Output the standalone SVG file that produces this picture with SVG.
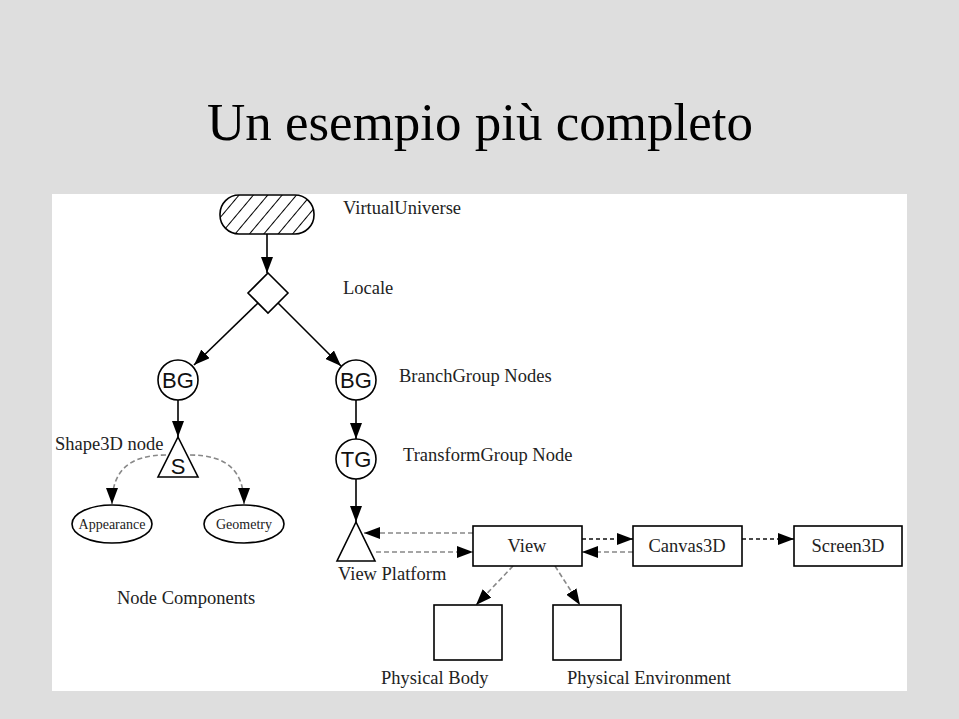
<svg xmlns="http://www.w3.org/2000/svg" width="959" height="719" viewBox="0 0 959 719">
<style>
.bg{fill:#dedede}
.panel{fill:#ffffff}
.title{font-family:"Liberation Serif","Times New Roman",serif;font-size:53px;fill:#000}
.lbl{font-family:"Liberation Serif","Times New Roman",serif;font-size:18.5px;fill:#222}
.small{font-family:"Liberation Serif","Times New Roman",serif;font-size:14px;fill:#222}
.nd{font-family:"Liberation Sans",Arial,sans-serif;font-size:22px;fill:#111;text-anchor:middle}
.shape{fill:#fff;stroke:#000;stroke-width:1.6}
.solid{fill:none;stroke:#000;stroke-width:1.6}
.dgray{fill:none;stroke:#888;stroke-width:1.6;stroke-dasharray:5,3}
.dblack{fill:none;stroke:#111;stroke-width:1.4;stroke-dasharray:4,3}
</style>
<defs>
<marker id="ah" viewBox="0 0 16 12" refX="16" refY="6" markerWidth="16" markerHeight="12" markerUnits="userSpaceOnUse" orient="auto">
<path d="M0,0 L16,6 L0,12 Z" fill="#000"/>
</marker>
<pattern id="hatch" patternUnits="userSpaceOnUse" width="11" height="11" patternTransform="rotate(40)">
<line x1="0" y1="0" x2="0" y2="11" stroke="#000" stroke-width="2"/>
</pattern>
</defs>
<rect class="bg" x="0" y="0" width="959" height="719"/>
<text class="title" x="480" y="140" text-anchor="middle">Un esempio più completo</text>
<rect class="panel" x="52" y="194" width="855" height="497"/>

<g id="connectors">
<line class="solid" x1="267" y1="234" x2="267" y2="273" marker-end="url(#ah)"/>
<line class="solid" x1="258" y1="303" x2="194" y2="365" marker-end="url(#ah)"/>
<line class="solid" x1="278" y1="303" x2="341" y2="366" marker-end="url(#ah)"/>
<line class="solid" x1="178" y1="400" x2="178" y2="437" marker-end="url(#ah)"/>
<line class="solid" x1="356" y1="400" x2="356" y2="439" marker-end="url(#ah)"/>
<line class="solid" x1="356" y1="479" x2="356" y2="522" marker-end="url(#ah)"/>
<path class="dgray" d="M166,455 C130,455 112,470 112,504" marker-end="url(#ah)"/>
<path class="dgray" d="M190,455 C226,455 244,470 244,504" marker-end="url(#ah)"/>
<line class="dgray" x1="473" y1="533" x2="364" y2="533" marker-end="url(#ah)"/>
<line class="dgray" x1="376" y1="552" x2="473" y2="552" marker-end="url(#ah)"/>
<line class="dblack" x1="582" y1="539" x2="633" y2="539" marker-end="url(#ah)"/>
<line class="dgray" x1="633" y1="552" x2="582" y2="552" marker-end="url(#ah)"/>
<line class="dblack" x1="742" y1="539" x2="794" y2="539" marker-end="url(#ah)"/>
<line class="dgray" x1="513" y1="566" x2="476" y2="605" marker-end="url(#ah)"/>
<line class="dgray" x1="555" y1="566" x2="580" y2="605" marker-end="url(#ah)"/>
</g>

<g id="virtualuniverse">
<rect x="220" y="195" width="94" height="39" rx="19" ry="19" fill="url(#hatch)" stroke="#000" stroke-width="1.6"/>
<text class="lbl" x="343" y="214">VirtualUniverse</text>
</g>
<g id="locale">
<polygon class="shape" points="268,273 288,293 268,313 248,293"/>
<text class="lbl" x="343" y="294">Locale</text>
</g>
<g id="bg-left">
<circle class="shape" cx="178" cy="380" r="20"/>
<text class="nd" x="178" y="388">BG</text>
</g>
<g id="bg-right">
<circle class="shape" cx="356" cy="380" r="20"/>
<text class="nd" x="356" y="388">BG</text>
<text class="lbl" x="399" y="382">BranchGroup Nodes</text>
</g>
<g id="shape3d">
<polygon class="shape" points="178,437 198,477 158,477"/>
<text class="nd" x="178" y="474">S</text>
<text class="lbl" x="55" y="450">Shape3D node</text>
</g>
<g id="tg">
<circle class="shape" cx="356" cy="459" r="20"/>
<text class="nd" x="356" y="467">TG</text>
<text class="lbl" x="403" y="461">TransformGroup Node</text>
</g>
<g id="appearance">
<ellipse class="shape" cx="112" cy="524" rx="40" ry="19"/>
<text class="small" x="112" y="529" text-anchor="middle">Appearance</text>
</g>
<g id="geometry">
<ellipse class="shape" cx="244" cy="524" rx="40" ry="19"/>
<text class="small" x="244" y="529" text-anchor="middle">Geometry</text>
</g>
<text class="lbl" x="117" y="604">Node Components</text>
<g id="viewplatform">
<polygon class="shape" points="356,522 375,561 337,561"/>
<text class="lbl" x="338" y="580">View Platform</text>
</g>
<g id="view">
<rect class="shape" x="473" y="526" width="109" height="40"/>
<text class="lbl" x="527" y="552" text-anchor="middle">View</text>
</g>
<g id="canvas3d">
<rect class="shape" x="633" y="526" width="109" height="40"/>
<text class="lbl" x="687" y="552" text-anchor="middle">Canvas3D</text>
</g>
<g id="screen3d">
<rect class="shape" x="794" y="526" width="108" height="40"/>
<text class="lbl" x="848" y="552" text-anchor="middle">Screen3D</text>
</g>
<g id="physicalbody">
<rect class="shape" x="434" y="605" width="68" height="55"/>
<text class="lbl" x="381" y="684">Physical Body</text>
</g>
<g id="physicalenv">
<rect class="shape" x="553" y="605" width="68" height="55"/>
<text class="lbl" x="567" y="684">Physical Environment</text>
</g>
</svg>
